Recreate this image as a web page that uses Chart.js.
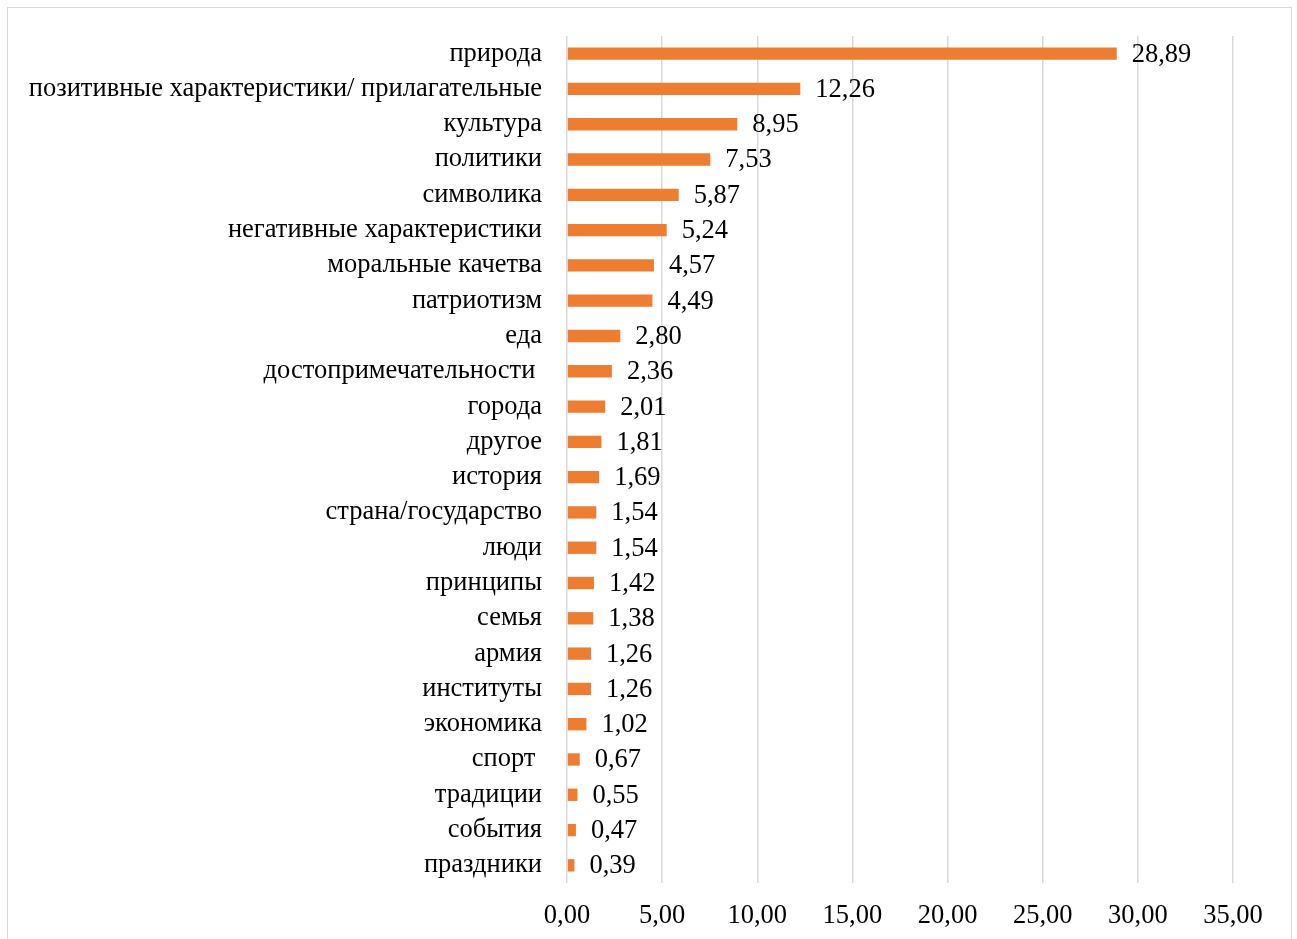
<!DOCTYPE html>
<html lang="ru">
<head>
    <meta charset="UTF-8">
    <script src="https://cdn.jsdelivr.net/npm/chart.js@4"></script>
    <title>Категории</title>
    <style>
        body {
            margin: 0;
            padding: 0;
            background: #fff;
            width: 1297px;
            height: 939px;
            overflow: hidden;
            position: relative;
        }
        .frame {
            position: absolute;
            left: 7px;
            top: 7px;
            width: 1285px;
            height: 960px;
            border: 1px solid #d9d9d9;
            box-sizing: border-box;
        }
        canvas {
            position: absolute;
            left: 0;
            top: 0;
        }
    </style>
</head>
<body>
    <div class="frame"></div>
    <canvas id="chart" width="1297" height="939"></canvas>
    <script>
        // категории и значения (%)
        const categories = [
            'природа',
            'позитивные характеристики/ прилагательные',
            'культура',
            'политики',
            'символика',
            'негативные характеристики',
            'моральные качетва',
            'патриотизм',
            'еда',
            'достопримечательности ',
            'города',
            'другое',
            'история',
            'страна/государство',
            'люди',
            'принципы',
            'семья',
            'армия',
            'институты',
            'экономика',
            'спорт ',
            'традиции',
            'события',
            'праздники'
        ];
        const values = [28.89, 12.26, 8.95, 7.53, 5.87, 5.24, 4.57, 4.49, 2.80, 2.36, 2.01, 1.81,
                        1.69, 1.54, 1.54, 1.42, 1.38, 1.26, 1.26, 1.02, 0.67, 0.55, 0.47, 0.39];
        const xTicks = [0, 5, 10, 15, 20, 25, 30, 35];

        const fmt = v => v.toFixed(2).replace('.', ',');
        const FONT = "'Liberation Serif', 'Times New Roman', serif";
        const FSIZE = 26.5;

        // подписи значений справа от столбцов
        const valueLabels = {
            id: 'valueLabels',
            afterDatasetsDraw(chart) {
                const c = chart.ctx;
                const meta = chart.getDatasetMeta(0);
                c.save();
                c.font = FSIZE + 'px ' + FONT;
                c.fillStyle = '#000';
                c.textBaseline = 'middle';
                c.textAlign = 'left';
                meta.data.forEach((bar, i) => {
                    c.fillText(fmt(values[i]), bar.x + 15, bar.y + 1);
                });
                c.restore();
            }
        };

        new Chart(document.getElementById('chart').getContext('2d'), {
            type: 'bar',
            data: {
                labels: categories,
                datasets: [{
                    data: values,
                    backgroundColor: '#ED7D31',
                    categoryPercentage: 1,
                    barPercentage: 0.35
                }]
            },
            options: {
                indexAxis: 'y',
                responsive: false,
                animation: false,
                layout: { padding: { top: 36, right: 64, bottom: 0, left: 0 } },
                plugins: {
                    legend: { display: false },
                    tooltip: { enabled: false }
                },
                scales: {
                    x: {
                        min: 0,
                        max: 35,
                        afterBuildTicks(axis) {
                            axis.ticks = xTicks.map(v => ({ value: v }));
                        },
                        afterFit(axis) { axis.height = 56; },
                        grid: { color: '#d9d9d9', lineWidth: 1.5, drawTicks: false },
                        border: { display: false },
                        ticks: {
                            padding: 17,
                            color: '#000',
                            font: { family: FONT, size: FSIZE },
                            callback: v => fmt(v)
                        }
                    },
                    y: {
                        afterFit(axis) { axis.width = 567; },
                        grid: { display: false },
                        border: { display: false },
                        ticks: {
                            padding: 17,
                            color: '#000',
                            autoSkip: false,
                            font: { family: FONT, size: FSIZE }
                        }
                    }
                }
            },
            plugins: [valueLabels]
        });
    </script>
</body>
</html>
